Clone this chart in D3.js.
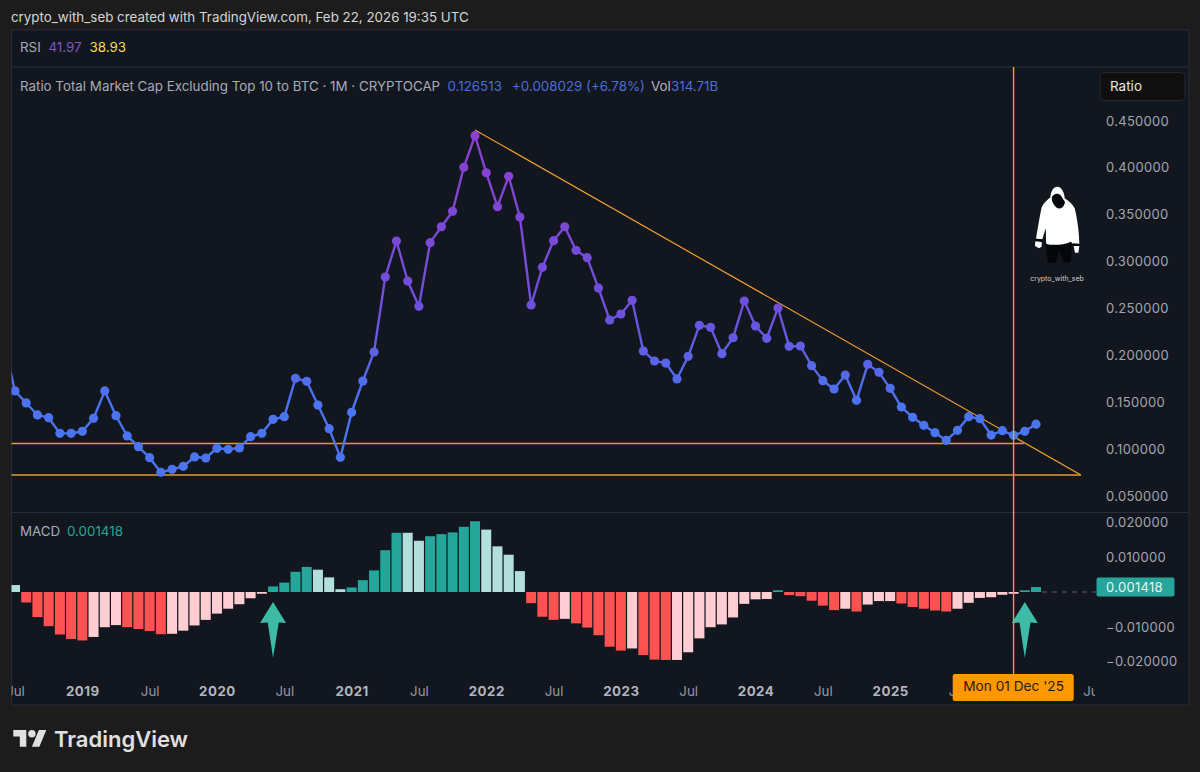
<!DOCTYPE html>
<html>
<head>
<meta charset="utf-8">
<script src="https://cdn.jsdelivr.net/npm/d3@7"></script>
<style>
  html, body { margin: 0; padding: 0; background: #1c1c1c; overflow: hidden; }
  svg { display: block; font-family: Inter, "Noto Sans", sans-serif; }
</style>
</head>
<body>
<svg width="1200" height="772"></svg>
<script>
// month index: 0 = Jul 2018, ratio starts one month earlier (Jun 2018, cut off by the pane)
const firstMonth = -1
const ratio = [
  0.214,
  0.1619, 0.1491, 0.1363, 0.1334, 0.1167, 0.1167,
  0.1189, 0.1327, 0.1619, 0.1355, 0.1139, 0.1025, 0.0907, 0.0751, 0.0783, 0.0815, 0.0915, 0.0904,
  0.1007, 0.0997, 0.1011, 0.1131, 0.1167, 0.1317, 0.1345, 0.1754, 0.1722, 0.1469, 0.1217, 0.0911,
  0.1391, 0.1725, 0.2035, 0.2835, 0.3219, 0.2792, 0.2522, 0.3201, 0.3371, 0.3535, 0.4005, 0.4342,
  0.3947, 0.3585, 0.3909, 0.3475, 0.2536, 0.2938, 0.3222, 0.3371, 0.3119, 0.3041, 0.2717, 0.2376,
  0.2440, 0.2586, 0.2045, 0.1939, 0.1917, 0.1747, 0.1989, 0.2319, 0.2298, 0.2017, 0.2187, 0.2579,
  0.2312, 0.2181, 0.2504, 0.2095, 0.2099, 0.1889, 0.1729, 0.1640, 0.1789, 0.1519, 0.1903, 0.1818,
  0.1647, 0.1448, 0.1338, 0.1253, 0.1174, 0.1093, 0.1199, 0.1345, 0.1323, 0.1149, 0.1195, 0.1146,
  0.1189, 0.1265
]
// macd histogram, first bar = Jul 2018
const macd = [
  0.0020, -0.0030, -0.0072, -0.0098, -0.0122, -0.0135,
  -0.0139, -0.0129, -0.0101, -0.0095, -0.0101, -0.0106, -0.0112, -0.0121, -0.0120, -0.0111, -0.0096, -0.0080,
  -0.0062, -0.0048, -0.0035, -0.0018, -0.0005, 0.0016, 0.0027, 0.0058, 0.0072, 0.0064, 0.0042, 0.0008,
  0.0013, 0.0034, 0.0062, 0.0120, 0.0170, 0.0170, 0.0147, 0.0160, 0.0166, 0.0171, 0.0187, 0.0203,
  0.0179, 0.0131, 0.0107, 0.0060, -0.0032, -0.0071, -0.0080, -0.0077, -0.0090, -0.0102, -0.0124, -0.0157,
  -0.0168, -0.0162, -0.0181, -0.0194, -0.0195, -0.0195, -0.0173, -0.0133, -0.0101, -0.0093, -0.0073, -0.0034,
  -0.0021, -0.0020, 0.0005, -0.0009, -0.0012, -0.0025, -0.0039, -0.0052, -0.0048, -0.0056, -0.0036, -0.0026,
  -0.0026, -0.0033, -0.0043, -0.0048, -0.0053, -0.0056, -0.0048, -0.0031, -0.0017, -0.0015, -0.0008, -0.0005,
  0.0005, 0.001418
]
const tickMonths = [0, 6, 12, 18, 24, 30, 36, 42, 48, 54, 60, 66, 72, 78, 84, 90, 96]
const tickLabels = ['Jul', '2019', 'Jul', '2020', 'Jul', '2021', 'Jul', '2022', 'Jul', '2023', 'Jul', '2024', 'Jul', '2025', 'Jul', '', 'Jul']
const ratioTicks = [0.45, 0.4, 0.35, 0.3, 0.25, 0.2, 0.15, 0.1, 0.05]
const macdTicks = [0.02, 0.01, -0.01, -0.02]

// drawings on the chart: [month, value] ends
const trendLine = [[41, 0.4403], [95, 0.0723]]
const supportLines = [[[-2, 0.1059], [89.9, 0.1059]], [[-2, 0.0723], [95, 0.0723]]]
const cursorMonth = 89
const arrowMonths = [23, 90]
const macdLast = 0.001418

const svg = d3.select('svg')

const paneLeft = 11.5, paneRight = 1189, paneTop = 30, paneBottom = 705
const plotRight = 1095

//MAKE CALLABLE SCALES
const xscale = d3.scaleLinear().domain([0, 90]).range([15, 1024.8])
const yscale = d3.scaleLinear().domain([0.1, 0.45]).range([449, 120.9])
const ymacd = d3.scaleLinear().domain([0, 0.02]).range([592, 522.3])
const colorStops = [0.43, 0.25, 0.15]
const linecolor = d3.scaleLinear()
  .domain(colorStops)
  .range(['#8a40d0', '#6e50dc', '#4a74f0'])

svg.append('rect').attr('width', 1200).attr('height', 772).attr('fill', '#1c1c1c')
svg.append('rect')
  .attr('x', paneLeft).attr('y', paneTop)
  .attr('width', paneRight - paneLeft).attr('height', paneBottom - paneTop)
  .attr('fill', '#12161f').attr('stroke', '#2a2d35')
svg.append('line').attr('x1', paneLeft).attr('x2', paneRight).attr('y1', 67).attr('y2', 67).attr('stroke', '#2a2e39')
svg.append('line').attr('x1', paneLeft).attr('x2', paneRight).attr('y1', 512.5).attr('y2', 512.5).attr('stroke', '#2a2e39')

svg.append('clipPath').attr('id', 'plot')
  .append('rect').attr('x', paneLeft).attr('y', 67).attr('width', plotRight - paneLeft).attr('height', 638)

const plot = svg.append('g').attr('clip-path', 'url(#plot)')

// macd bars, dark when the bar is growing away from zero, pale when shrinking
const barcolor = (d, i) => {
  const prev = i > 0 ? macd[i - 1] : d + 1
  if (d >= 0) return d > prev ? '#26a69a' : '#b2dfdb'
  return d < prev ? '#ff5252' : '#ffcdd2'
}
plot.append('g').selectAll('rect').data(macd).join('rect')
  .attr('x', (d, i) => xscale(i) - 5)
  .attr('width', 10)
  .attr('y', d => Math.min(ymacd(d), ymacd(0)))
  .attr('height', d => Math.max(Math.abs(ymacd(d) - ymacd(0)), 1))
  .attr('fill', barcolor)

// arrows under the histogram
const arrow = d3.line()
plot.append('g').selectAll('path').data(arrowMonths).join('path')
  .attr('d', arrow([[0, 0], [13, 21], [5.7, 20.5], [0, 56], [-5.3, 20.5], [-13, 21]]) + 'Z')
  .attr('transform', m => `translate(${xscale(m)},${ymacd(-0.0029)})`)
  .attr('fill', '#3dbba6')

// orange drawings
const orange = d3.line().x(d => xscale(d[0])).y(d => yscale(d[1]))
plot.append('path').attr('d', orange(supportLines[0])).attr('stroke', '#e8982a').attr('stroke-width', 1.5).attr('fill', 'none')
plot.append('path').attr('d', orange(supportLines[1])).attr('stroke', '#e8982a').attr('stroke-width', 1.5).attr('fill', 'none')
plot.append('path').attr('d', orange(trendLine)).attr('stroke', '#f0a030').attr('stroke-width', 1.2).attr('fill', 'none')
svg.append('line')
  .attr('x1', xscale(cursorMonth)).attr('x2', xscale(cursorMonth))
  .attr('y1', 67).attr('y2', 676)
  .attr('stroke', '#f0a030').attr('stroke-width', 1.4)

// ratio line, violet at the top fading to blue at the bottom
const grad = svg.append('linearGradient').attr('id', 'ratiograd')
  .attr('gradientUnits', 'userSpaceOnUse')
  .attr('x1', 0).attr('x2', 0).attr('y1', yscale(0.43)).attr('y2', yscale(0.15))
grad.selectAll('stop').data(colorStops).join('stop')
  .attr('offset', d => (0.43 - d) / 0.28)
  .attr('stop-color', d => linecolor(d))
const ratioline = d3.line().x((d, i) => xscale(i + firstMonth)).y(d => yscale(d))
plot.append('path').attr('d', ratioline(ratio))
  .attr('fill', 'none').attr('stroke', 'url(#ratiograd)').attr('stroke-width', 2.4)
plot.append('g').selectAll('circle').data(ratio).join('circle')
  .attr('cx', (d, i) => xscale(i + firstMonth))
  .attr('cy', d => yscale(d))
  .attr('r', 4.6)
  .attr('fill', d => d < 0.15 ? '#4a74f0' : linecolor(d))

// time axis
const xaxis = svg.append('g').attr('clip-path', 'url(#plot)').append('g')
  .attr('transform', 'translate(0,685)')
  .call(d3.axisBottom(xscale).tickValues(tickMonths)
    .tickFormat((d, i) => tickLabels[i]).tickSize(0).tickPadding(0))
xaxis.select('.domain').remove()
xaxis.selectAll('text')
  .attr('dy', '0.8em')
  .attr('fill', (d, i) => tickLabels[i] === 'Jul' ? '#9598a1' : '#b2b5be')
  .style('font-size', '13.3px')
  .style('font-family', 'Inter')
  .style('font-weight', (d, i) => tickLabels[i] === 'Jul' ? 400 : 700)
  .style('letter-spacing', (d, i) => tickLabels[i] === 'Jul' ? '0' : '0.5px')

// price axes
const fmt = d => d3.format('.6f')(d)
const styleAxis = g => {
  g.select('.domain').remove()
  g.selectAll('text').attr('fill', '#a3a6af')
    .style('font-size', '13px').style('font-family', 'Inter').style('letter-spacing', '0.3px')
}
svg.append('g').attr('transform', 'translate(1106,0)')
  .call(d3.axisRight(yscale).tickValues(ratioTicks).tickFormat(fmt).tickSize(0).tickPadding(0))
  .call(styleAxis)
svg.append('g').attr('transform', 'translate(1106,0)')
  .call(d3.axisRight(ymacd).tickValues(macdTicks).tickFormat(fmt).tickSize(0).tickPadding(0))
  .call(styleAxis)

// last macd value tag
svg.append('line')
  .attr('x1', xscale(91) + 6).attr('x2', 1096)
  .attr('y1', ymacd(0)).attr('y2', ymacd(0))
  .attr('stroke', '#5d606b').attr('stroke-dasharray', '5 5')
svg.append('rect').attr('x', 1096.5).attr('y', 577.5).attr('width', 78).attr('height', 19).attr('rx', 2).attr('fill', '#26a69a')
svg.append('text').attr('x', 1106).attr('y', ymacd(macdLast)).attr('dy', '0.36em').text(d3.format('.6f')(macdLast))
  .attr('fill', '#e8f5f3').style('font-size', '13px').style('letter-spacing', '0.3px')

// crosshair date tag
svg.append('rect').attr('x', 952.7).attr('y', 674).attr('width', 121).attr('height', 27).attr('rx', 2).attr('fill', '#ff9800')
svg.append('text').attr('x', xscale(cursorMonth)).attr('y', 690).attr('dy', '0.1em')
  .attr('text-anchor', 'middle').text("Mon 01 Dec '25")
  .attr('fill', '#2a1c05').style('font-size', '13.7px')

// Ratio button
svg.append('rect').attr('x', 1100).attr('y', 72.5).attr('width', 85).attr('height', 28).attr('rx', 4)
  .attr('fill', '#0f0f0f').attr('stroke', '#252830')
svg.append('text').attr('x', 1110).attr('y', 91).text('Ratio').attr('fill', '#e6e6e6').style('font-size', '13.5px')

// legends
const legend = (x, y, str, color) => svg.append('text')
  .attr('x', x).attr('y', y).text(str).attr('fill', color).style('font-size', '13.35px')

legend(11, 22, 'crypto_with_seb created with TradingView.com, Feb 22, 2026 19:35 UTC', '#d6d6d6')
legend(20, 52, 'RSI', '#a9acb5')
legend(48.5, 52, '41.97', '#7e57c2')
legend(89.5, 52, '38.93', '#f5dc4a')
legend(20, 90.5, 'Ratio Total Market Cap Excluding Top 10 to BTC · 1M · CRYPTOCAP', '#a9acb5')
legend(447.5, 90.5, '0.126513', '#4a6fd6')
legend(512, 90.5, '+0.008029 (+6.78%)', '#4a6fd6')
legend(651, 90.5, 'Vol', '#b2b5be')
legend(671, 90.5, '314.71B', '#4a6fd6')
legend(20, 535.5, 'MACD', '#a9acb5')
legend(67, 535.5, '0.001418', '#26a69a')

// hooded figure watermark
const fig = svg.append('g').attr('transform', 'translate(1025,180) scale(0.3333)')
fig.append('path').attr('fill', '#05060a')
  .attr('d', 'M62 188 L140 183 L138 246 L116 248 L103 212 L92 248 L68 248 Z')
fig.append('path').attr('fill', '#ffffff')
  .attr('d', 'M97 20 C86 20 78 32 76 52 C68 60 56 68 50 82 C45 105 38 145 33 176 L52 178 L62 145 C64 165 62 180 64 192 C85 197 115 195 138 185 L143 192 L163 193 C163 160 156 110 149 85 C143 72 130 62 119 55 C119 40 110 20 97 20 Z')
fig.append('path').attr('fill', '#05060a')
  .attr('d', 'M81 50 C87 40 100 38 107 46 L120 66 C117 84 105 88 96 84 C88 76 78 65 81 50 Z')
fig.append('path').attr('fill', '#05060a').attr('d', 'M30 176 L52 178 L50 186 L30 184 Z M143 190 L163 191 L163 198 L144 198 Z')
fig.append('path').attr('fill', '#ffffff').attr('d', 'M31 184 L50 186 L50 200 L42 205 L30 198 Z M146 198 L163 198 L160 218 L150 218 Z')
svg.append('text').attr('x', 1057).attr('y', 281).attr('text-anchor', 'middle').text('crypto_with_seb')
  .attr('fill', '#cfcfcf').style('font-size', '7px')

// TradingView logo
const logo = svg.append('g').attr('transform', 'translate(13.3,726.3) scale(0.93)').attr('fill', '#e0e0e0')
logo.append('path').attr('d', 'M14 22H7V11H0V4h14v18ZM28 22h-8l7.5-18h8L28 22Z')
logo.append('circle').attr('cx', 20).attr('cy', 8).attr('r', 4)
svg.append('text').attr('x', 54).attr('y', 747).text('TradingView')
  .attr('fill', '#e0e0e0').style('font-size', '22px').style('font-weight', 600)
</script>
</body>
</html>
